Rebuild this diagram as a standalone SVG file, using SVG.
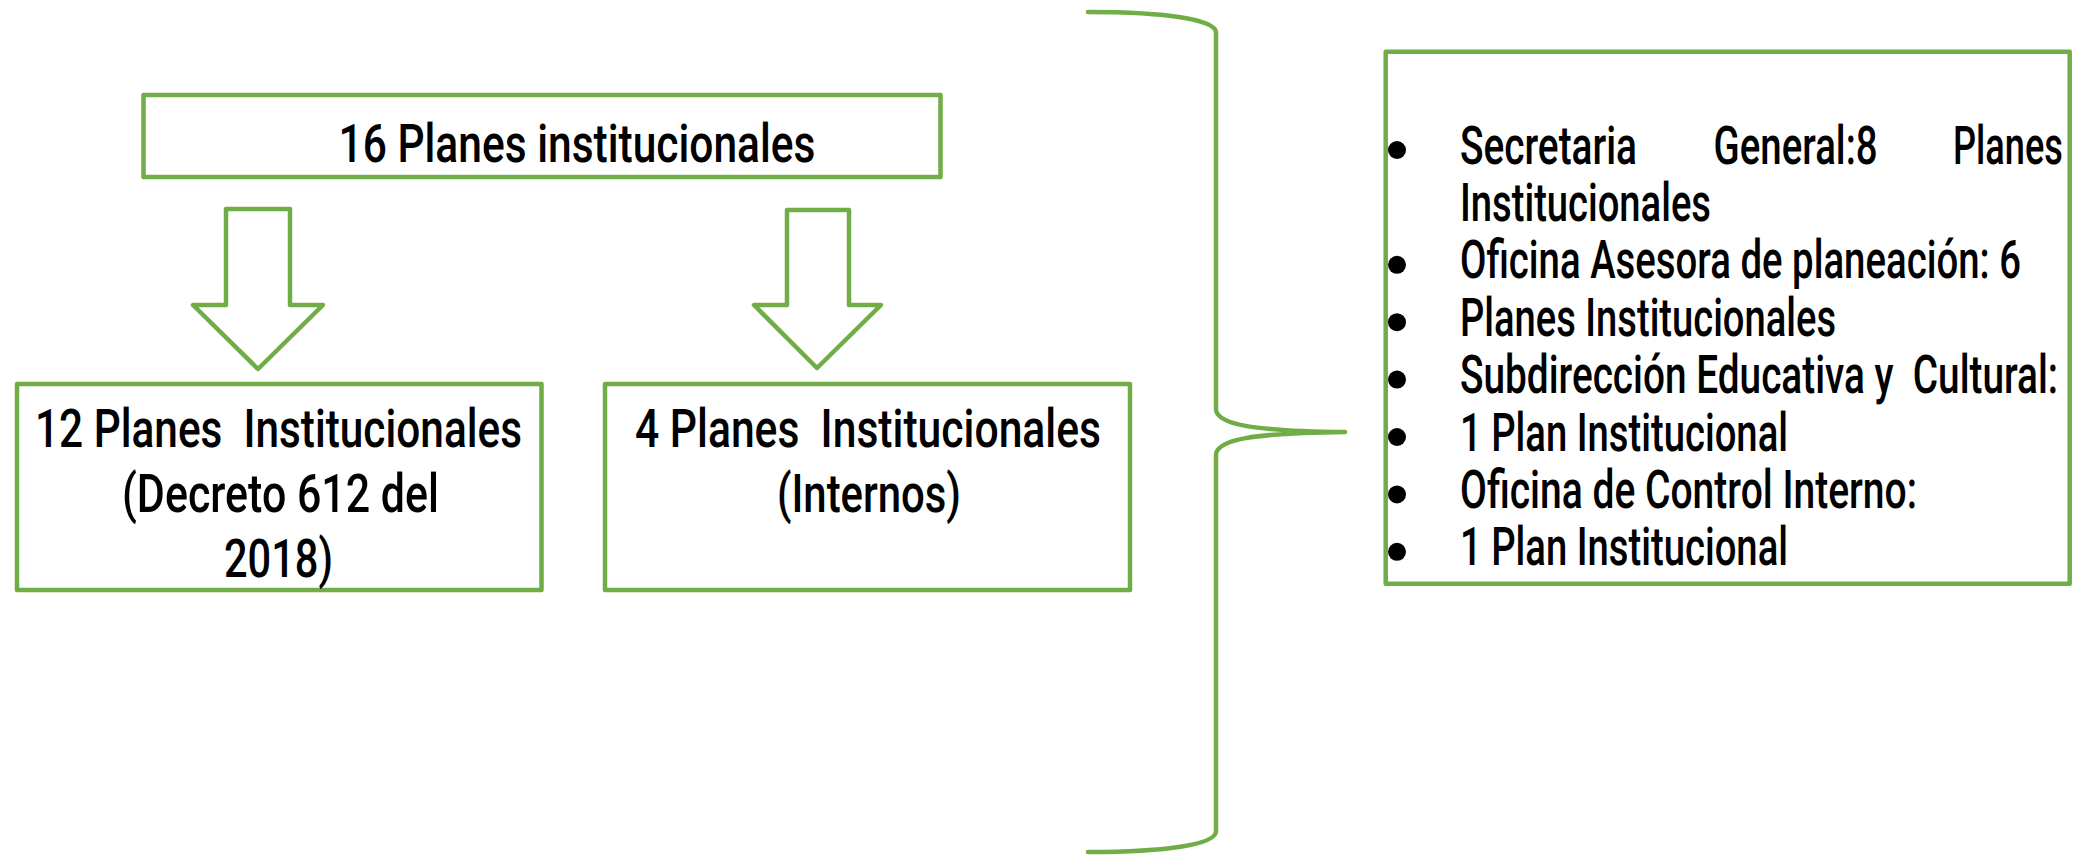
<svg xmlns="http://www.w3.org/2000/svg" width="2078" height="855" viewBox="0 0 2078 855">
<style>
.box{fill:#ffffff;stroke:#70AD47;stroke-width:4.5;stroke-linejoin:round}
.arrow{fill:#ffffff;stroke:#70AD47;stroke-width:4.5;stroke-linejoin:round}
.brace{fill:none;stroke:#70AD47;stroke-width:4.5;stroke-linecap:round;stroke-linejoin:round}
.t{font-family:Roboto,"Liberation Sans",sans-serif;font-size:54px;font-weight:500;fill:#000000;white-space:pre}
.dot{fill:#000000}
</style>
<rect width="2078" height="855" fill="#ffffff"/>
<g id="connectors">
<polygon class="arrow" points="226,209 290,209 290,305 323,305 258,369 193,305 226,305"/>
<polygon class="arrow" points="787,210 849,210 849,305 881,305 817,368 754,305 787,305"/>
<path class="brace" d="M1088,12 C1170,12 1214,20 1216,32 L1216,410 C1218,424 1250,431 1345,432 C1250,433 1218,440 1216,454 L1216,832 C1214,844 1170,852 1088,852"/>
</g>
<g id="node-total">
<rect class="box" x="143.5" y="95" width="797" height="82"/>
<text class="t" x="338.5" y="161.7" textLength="477" lengthAdjust="spacingAndGlyphs">16 Planes institucionales</text>
</g>
<g id="node-decreto">
<rect class="box" x="17" y="384" width="524.5" height="206"/>
<text class="t" x="35" y="447" textLength="487" lengthAdjust="spacingAndGlyphs">12 Planes  Institucionales</text>
<text class="t" x="122" y="512" textLength="317" lengthAdjust="spacingAndGlyphs">(Decreto 612 del</text>
<text class="t" x="224" y="577" textLength="109" lengthAdjust="spacingAndGlyphs">2018)</text>
</g>
<g id="node-internos">
<rect class="box" x="605" y="384" width="525" height="206"/>
<text class="t" x="635" y="447" textLength="466" lengthAdjust="spacingAndGlyphs">4 Planes  Institucionales</text>
<text class="t" x="777" y="512" textLength="184" lengthAdjust="spacingAndGlyphs">(Internos)</text>
</g>
<g id="node-dependencias">
<rect class="box" x="1385.7" y="51.7" width="684" height="532"/>
<circle class="dot" cx="1397" cy="150" r="9"/>
<circle class="dot" cx="1397" cy="264.8" r="9"/>
<circle class="dot" cx="1397" cy="322.2" r="9"/>
<circle class="dot" cx="1397" cy="379.6" r="9"/>
<circle class="dot" cx="1397" cy="437" r="9"/>
<circle class="dot" cx="1397" cy="494.4" r="9"/>
<circle class="dot" cx="1397" cy="551.8" r="9"/>
<text class="t" x="1460" y="163.5" textLength="177" lengthAdjust="spacingAndGlyphs">Secretaria</text>
<text class="t" x="1713.6" y="163.5" textLength="164" lengthAdjust="spacingAndGlyphs">General:8</text>
<text class="t" x="1953" y="163.5" textLength="110" lengthAdjust="spacingAndGlyphs">Planes</text>
<text class="t" x="1460" y="220.9" textLength="251" lengthAdjust="spacingAndGlyphs">Institucionales</text>
<text class="t" x="1460" y="278.3" textLength="561" lengthAdjust="spacingAndGlyphs">Oficina Asesora de planeación: 6</text>
<text class="t" x="1460" y="335.7" textLength="376" lengthAdjust="spacingAndGlyphs">Planes Institucionales</text>
<text class="t" x="1460" y="393.1" textLength="598" lengthAdjust="spacingAndGlyphs">Subdirección Educativa y  Cultural:</text>
<text class="t" x="1460" y="450.5" textLength="328" lengthAdjust="spacingAndGlyphs">1 Plan Institucional</text>
<text class="t" x="1460" y="507.9" textLength="457" lengthAdjust="spacingAndGlyphs">Oficina de Control Interno:</text>
<text class="t" x="1460" y="565.3" textLength="328" lengthAdjust="spacingAndGlyphs">1 Plan Institucional</text>
</g>
</svg>
